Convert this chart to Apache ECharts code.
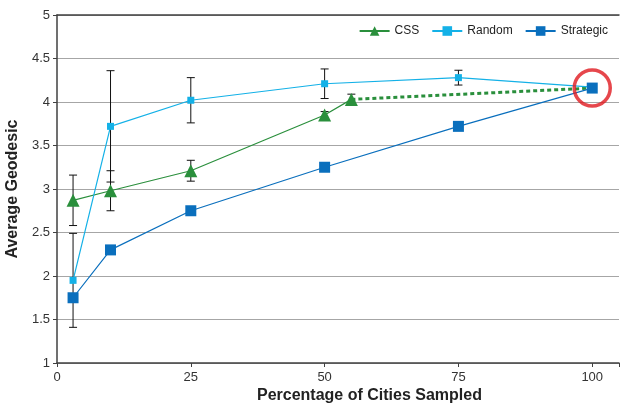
<!DOCTYPE html>
<html><head><meta charset="utf-8">
<script src="https://cdn.jsdelivr.net/npm/echarts@6/dist/echarts.min.js"></script>
<style>html,body{margin:0;padding:0;background:#fff}#c{width:621px;height:406px}</style>
</head><body><div id="c"></div>
<script>
// ---- data ----
const cssX = [3, 10, 25, 50, 55];
const cssVals = [2.87, 2.98, 3.21, 3.85, 4.03];
const cssErr = [0.29, 0.23, 0.12, 0.04, 0.06];
const cssExtX = [55, 100];
const cssExtVals = [4.03, 4.16];
const sampleX = [3, 10, 25, 50, 75, 100];
const randomVals = [1.95, 3.72, 4.02, 4.21, 4.28, 4.17];
const randomErr = [0.54, 0.64, 0.26, 0.17, 0.085, 0];
const strategicVals = [1.75, 2.30, 2.75, 3.25, 3.72, 4.16];
const highlightX = [100];
const highlightY = [4.16];
const xTicks = [0, 25, 50, 75, 100];
const legendNames = ['CSS', 'Random', 'Strategic'];

const FONT = '"Liberation Sans", Arial, sans-serif';
const zip = (xs, ys) => xs.map((x, i) => [x, ys[i]]);
const errData = (xs, ys, es) => xs.map((x, i) => [x, ys[i] - es[i], ys[i] + es[i]]);

function errRender(params, api) {
  const x = api.value(0), lo = api.value(1), hi = api.value(2);
  if (hi - lo <= 0) return null;
  const p1 = api.coord([x, hi]), p2 = api.coord([x, lo]);
  const w = 4;
  const st = { stroke: '#111', lineWidth: 1 };
  return { type: 'group', children: [
    { type: 'line', shape: { x1: p1[0], y1: p1[1], x2: p2[0], y2: p2[1] }, style: st },
    { type: 'line', shape: { x1: p1[0] - w, y1: p1[1], x2: p1[0] + w, y2: p1[1] }, style: st },
    { type: 'line', shape: { x1: p2[0] - w, y1: p2[1], x2: p2[0] + w, y2: p2[1] }, style: st }
  ]};
}

const chart = echarts.init(document.getElementById('c'), null, { renderer: 'canvas' });
chart.setOption({
  animation: false,
  textStyle: { fontFamily: FONT },
  grid: { left: 57, right: 2, top: 15, bottom: 43, outerBoundsMode: 'none', containLabel: false },
  legend: {
    data: legendNames, right: 8, top: 20, itemWidth: 30, itemHeight: 12, itemGap: 12,
    textStyle: { fontFamily: FONT, fontSize: 12, color: '#222' }
  },
  xAxis: [{
    type: 'value', min: 0, max: 105, interval: 25,
    axisLine: { lineStyle: { color: '#404040', width: 1.5 } },
    axisTick: { show: true, length: 4, lineStyle: { color: '#404040' } },
    axisLabel: { fontSize: 13, color: '#333', margin: 8, fontFamily: FONT,
      formatter: v => (xTicks.indexOf(v) >= 0 ? String(v) : '') },
    splitLine: { show: false }
  }, {
    type: 'value', position: 'top', min: 0, max: 105,
    axisLine: { show: true, lineStyle: { color: '#404040', width: 1.5 } },
    axisTick: { show: false }, axisLabel: { show: false }, splitLine: { show: false }
  }],
  yAxis: {
    type: 'value', min: 1, max: 5, interval: 0.5,
    name: 'Average Geodesic', nameLocation: 'middle', nameGap: 32,
    nameTextStyle: { fontFamily: FONT, fontSize: 16, fontWeight: 'bold', color: '#222' },
    axisLine: { show: true, lineStyle: { color: '#404040', width: 1.5 } },
    axisTick: { show: true, length: 4, lineStyle: { color: '#404040' } },
    axisLabel: { fontSize: 13, color: '#333', margin: 7, fontFamily: FONT },
    splitLine: { show: true, lineStyle: { color: '#a6a6a6', width: 1.2 } }
  },
  graphic: [{
    type: 'text', left: 257, top: 388,
    style: { text: 'Percentage of Cities Sampled', font: 'bold 16px ' + FONT, fill: '#222' }
  }],
  series: [
    { name: 'errRandom', type: 'custom', renderItem: errRender, data: errData(sampleX, randomVals, randomErr), z: 1 },
    { name: 'errCSS', type: 'custom', renderItem: errRender, data: errData(cssX, cssVals, cssErr), z: 1 },
    { name: 'CSSext', type: 'line', data: zip(cssExtX, cssExtVals), symbol: 'none',
      lineStyle: { color: '#2a8f3c', width: 3, type: [4, 3] }, z: 2 },
    { name: 'CSS', type: 'line', data: zip(cssX, cssVals), symbol: 'triangle', symbolSize: 13,
      lineStyle: { color: '#2a8f3c', width: 1.2 }, itemStyle: { color: '#2a8f3c' }, z: 3 },
    { name: 'Random', type: 'line', data: zip(sampleX, randomVals), symbol: 'rect', symbolSize: 7,
      lineStyle: { color: '#14b1e7', width: 1.2 }, itemStyle: { color: '#14b1e7' }, z: 3 },
    { name: 'Strategic', type: 'line', data: zip(sampleX, strategicVals), symbol: 'rect', symbolSize: 11,
      lineStyle: { color: '#0a6fbd', width: 1.2 }, itemStyle: { color: '#0a6fbd' }, z: 4 },
    { name: 'highlight', type: 'scatter', data: zip(highlightX, highlightY), symbol: 'circle', symbolSize: 36,
      itemStyle: { color: 'rgba(0,0,0,0)', borderColor: '#e0191f', borderWidth: 3.5 }, z: 5, silent: true }
  ]
});
</script></body></html>
